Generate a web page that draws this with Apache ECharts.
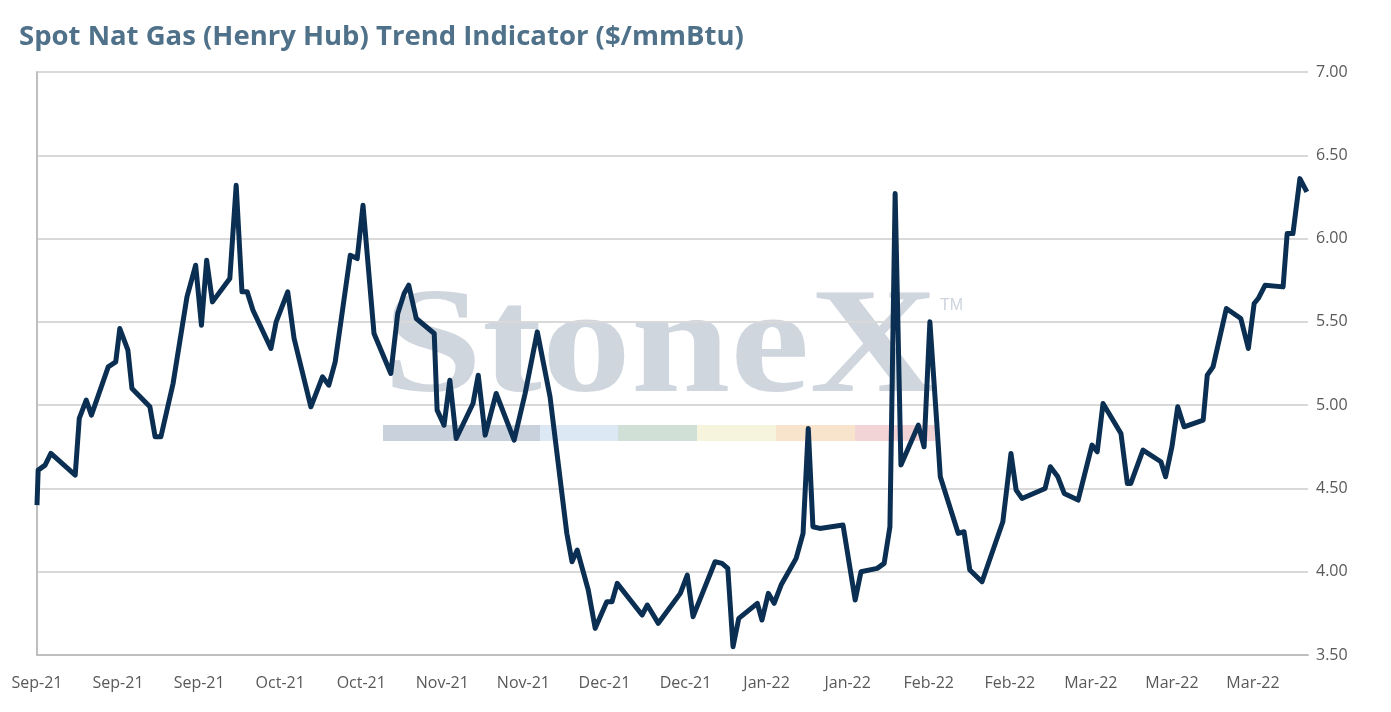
<!DOCTYPE html>
<html><head><meta charset="utf-8">
<script src="https://cdn.jsdelivr.net/npm/echarts@6/dist/echarts.min.js"></script>
<style>html,body{margin:0;padding:0;background:#fff}#c{width:1391px;height:712px}</style>
</head><body><div id="c"></div>
<script>
// days since first plotted date
var days = [0,0.2,1.4,2.4,6.6,7.3,8.5,9.4,12.3,13.6,14.3,15.7,16.4,19.5,20.4,21.4,23.5,25.9,27.4,28.4,29.3,30.3,33.3,34.4,35.4,36.3,37.3,40.4,41.3,43.3,44.4,47.3,49.3,50.4,51.5,54.1,55.3,56.3,58.2,61.1,62.3,63.4,64.2,65.5,68.6,69.1,70.3,71.3,72.4,75.3,76.2,77.4,79.3,82.4,84.3,86.4,88.6,91.5,92.4,93.3,95.2,96.4,98.4,99.3,100.2,104.5,105.4,107.3,111.1,112.3,113.3,117.1,118.3,119.3,120.2,121.2,124.4,125.2,126.3,127.3,128.5,131.1,132.3,133.2,134.0,135.2,139.2,141.3,142.3,145.1,146.3,147.3,148.2,149.2,152.2,153.2,154.2,155.4,156.0,159.1,160.1,161.1,163.2,166.8,168.2,169.1,170.1,174.1,175.0,176.3,177.4,179.8,182.2,183.1,184.1,187.2,188.3,188.9,191.0,194.1,194.9,196.0,197.0,198.1,201.4,202.1,203.1,205.4,207.9,209.2,210.2,210.9,212.1,215.2,215.9,216.9,218.1,219.3];
var prices = [4.40,4.61,4.64,4.71,4.58,4.92,5.03,4.94,5.23,5.26,5.46,5.33,5.10,4.99,4.81,4.81,5.13,5.65,5.84,5.48,5.87,5.62,5.76,6.32,5.68,5.68,5.57,5.34,5.50,5.68,5.40,4.99,5.17,5.12,5.26,5.90,5.88,6.20,5.43,5.19,5.55,5.67,5.72,5.52,5.43,4.97,4.88,5.15,4.80,5.01,5.18,4.82,5.07,4.79,5.07,5.44,5.05,4.23,4.06,4.13,3.89,3.66,3.82,3.82,3.93,3.74,3.80,3.69,3.87,3.98,3.73,4.06,4.05,4.02,3.55,3.72,3.81,3.71,3.87,3.81,3.92,4.08,4.23,4.86,4.27,4.26,4.28,3.83,4.00,4.02,4.05,4.27,6.27,4.64,4.88,4.75,5.50,4.89,4.57,4.23,4.24,4.01,3.94,4.30,4.71,4.49,4.44,4.50,4.63,4.57,4.47,4.43,4.76,4.72,5.01,4.83,4.53,4.53,4.73,4.66,4.57,4.75,4.99,4.87,4.91,5.18,5.23,5.58,5.52,5.34,5.61,5.64,5.72,5.71,6.03,6.03,6.36,6.28];
var tickLabels = ['Sep-21','Sep-21','Sep-21','Oct-21','Oct-21','Nov-21','Nov-21','Dec-21','Dec-21','Jan-22','Jan-22','Feb-22','Feb-22','Mar-22','Mar-22','Mar-22'];
var data = days.map(function(d,i){return [d,prices[i]];});
var chart = echarts.init(document.getElementById('c'));
var bars = ['#c9d1dc','#dce8f3','#d0e0d6','#f6f4dc','#f8e3cc','#f2d3d6'];
var bx = [383,540,618,697,776,855,935];
var graphics = [
  {type:'text',x:383,y:277,scaleX:1.19,z:0,style:{text:'StoneX',font:'bold 150px "Liberation Serif", serif',fill:'#d0d6de'}},
  {type:'text',x:940,y:298,z:0,style:{text:'TM',font:'16px "Liberation Sans", sans-serif',fill:'#cdd4dc'}},
  {type:'line',shape:{x1:37,y1:72,x2:37,y2:655},style:{stroke:'#bfbfbf',lineWidth:2}}
];
for (var i=0;i<6;i++) graphics.push({type:'rect',z:0,shape:{x:bx[i],y:425,width:bx[i+1]-bx[i],height:16},style:{fill:bars[i]}});
chart.setOption({
  animation:false,
  title:{text:'Spot Nat Gas (Henry Hub) Trend Indicator ($/mmBtu)',left:14,top:18,textStyle:{fontFamily:'"Open Sans", sans-serif',fontSize:27.5,fontWeight:'bold',color:'#4f7189'}},
  graphic:graphics,
  grid:{left:37,right:83,top:72,bottom:57},
  xAxis:{type:'value',min:0,max:219.5,interval:14,
    axisLine:{show:true,onZero:false,lineStyle:{color:'#bfbfbf',width:2}},axisTick:{show:false},splitLine:{show:false},
    axisLabel:{color:'#595959',fontSize:16,fontFamily:'"Open Sans", sans-serif',margin:20,showMaxLabel:false,
      formatter:function(v){var k=Math.round(v/14);return tickLabels[k]||'';}}},
  yAxis:{type:'value',position:'right',min:3.5,max:7,interval:0.5,
    axisLine:{show:true,lineStyle:{color:'#bfbfbf',width:2}},axisTick:{show:false},
    splitLine:{lineStyle:{color:'#d9d9d9',width:2}},
    axisLabel:{color:'#595959',fontSize:16,fontFamily:'"Open Sans", sans-serif',margin:8,formatter:function(v){return v.toFixed(2);}}},
  series:[{type:'line',data:data,showSymbol:false,z:5,lineStyle:{color:'#0b2f52',width:5,join:'round'}}]
});
</script></body></html>
